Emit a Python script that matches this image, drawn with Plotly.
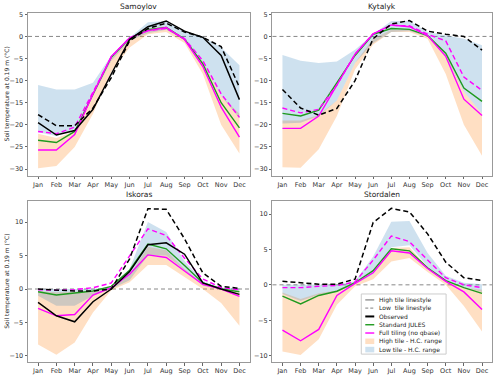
import plotly.graph_objects as go

months = ["Jan", "Feb", "Mar", "Apr", "May", "Jun", "Jul", "Aug", "Sep", "Oct", "Nov", "Dec"]
sites = ["Samoylov", "Kytalyk", "Iskoras", "Stordalen"]

# Samoylov
sam_obs_high = [-19.5, -22.3, -21.3, -16.5, -8.5, -0.7, 2.2, 3.5, 1.2, -0.2, -4.3, -14.3]
sam_obs_low = [-17.7, -20.2, -20.2, -16.2, -9.3, -1.0, 1.8, 3.0, 1.0, -0.2, -2.3, -11.5]
sam_jules = [-23.5, -24.0, -21.5, -13.0, -4.7, -0.4, 1.5, 2.0, -0.6, -6.2, -15.0, -20.7]
sam_full_high = [-25.7, -25.7, -22.2, -13.0, -4.5, -0.3, 1.3, 2.0, -0.7, -6.8, -16.0, -22.8]
sam_full_low = [-21.5, -22.0, -20.5, -12.5, -4.7, -0.3, 1.3, 1.8, -0.5, -5.5, -13.0, -18.3]
sam_hi_up = [-22.0, -23.0, -21.5, -13.5, -5.0, -0.5, 1.8, 2.3, -0.5, -5.8, -13.5, -17.5]
sam_hi_lo = [-29.8, -29.3, -25.0, -17.5, -8.0, -2.5, 0.5, 1.0, -1.5, -8.5, -20.0, -26.5]
sam_lo_up = [-11.0, -12.0, -12.0, -10.5, -4.3, -0.3, 3.2, 3.5, 1.0, 0.0, -2.5, -6.5]
sam_lo_lo = [-21.7, -22.5, -21.0, -13.5, -5.5, -1.0, 0.7, 1.5, -0.8, -6.0, -13.5, -18.5]

# Kytalyk
kyt_obs_high = [None] * 12
kyt_obs_low = [-12.0, -16.2, -17.8, -16.3, -10.0, -0.5, 2.8, 3.6, 1.2, 0.5, 0.0, -3.1]
kyt_jules = [-17.4, -18.0, -16.7, -10.5, -4.3, 0.5, 1.8, 1.6, 0.2, -3.8, -11.7, -14.7]
kyt_full_high = [-20.8, -20.8, -18.0, -11.0, -4.0, 0.6, 2.6, 2.2, 0.2, -4.5, -14.2, -17.9]
kyt_full_low = [-16.2, -17.3, -16.5, -11.0, -4.0, 0.6, 2.5, 2.4, 0.5, -1.0, -9.2, -12.2]
kyt_hi_up = [-19.0, -19.0, -17.8, -14.5, -6.0, -0.5, 1.5, 1.5, 0.0, -4.0, -12.5, -17.5]
kyt_hi_lo = [-29.6, -29.7, -25.5, -18.0, -7.5, -1.8, 1.0, 1.0, -0.5, -8.5, -20.0, -27.0]
kyt_lo_up = [-4.2, -5.5, -6.0, -5.7, -3.0, 0.5, 3.5, 3.5, 1.0, 0.3, -0.5, -2.0]
kyt_lo_lo = [-19.7, -19.5, -18.0, -14.5, -6.0, -1.5, 1.0, 1.2, 0.0, -4.5, -12.5, -17.5]

# Iskoras
isk_obs_high = [-2.0, -4.0, -4.9, -1.9, 0.0, 2.6, 6.6, 6.9, 5.2, 0.9, 0.0, -0.8]
isk_obs_low = [0.0, -0.2, -0.3, -0.3, 0.0, 4.5, 12.0, 11.9, 7.5, 2.4, 0.4, 0.1]
isk_jules = [-0.4, -0.9, -0.6, -0.3, 0.4, 2.8, 6.7, 6.0, 3.5, 0.9, 0.0, -0.4]
isk_full_high = [-2.9, -4.0, -3.8, -0.9, 0.2, 2.2, 5.1, 4.7, 2.7, 0.7, 0.0, -1.1]
isk_full_low = [-0.1, -0.2, -0.1, 0.2, 0.9, 5.0, 9.0, 8.0, 4.6, 1.5, 0.2, -0.1]
isk_hi_up = [-0.3, -0.5, -0.4, -0.3, 0.2, 2.0, 6.3, 5.8, 3.0, 0.8, 0.0, -0.6]
isk_hi_lo = [-8.3, -9.8, -8.0, -3.5, -0.2, 1.0, 3.6, 3.6, 1.8, 0.0, -2.1, -5.5]
isk_lo_up = [0.0, 0.0, 0.0, 0.0, 0.3, 3.0, 10.0, 8.5, 4.2, 1.2, 0.2, 0.1]
isk_lo_lo = [-1.0, -2.5, -2.5, -1.0, 0.0, 1.3, 5.0, 5.0, 2.8, 0.5, 0.0, -0.3]

# Stordalen
sto_obs_high = [None] * 12
sto_obs_low = [0.5, 0.3, 0.1, 0.1, 0.8, 8.8, 10.8, 10.3, 7.2, 3.2, 1.0, 0.6]
sto_jules = [-1.6, -2.7, -1.5, -0.9, 0.3, 2.0, 5.1, 4.8, 2.4, 0.6, -0.4, -1.2]
sto_full_high = [-6.4, -7.9, -6.3, -1.5, 0.2, 1.7, 4.8, 4.5, 2.3, 0.5, -1.0, -3.5]
sto_full_low = [-0.4, -0.4, -0.2, -0.1, 0.4, 3.5, 6.9, 6.1, 3.5, 1.0, 0.0, -0.4]
sto_hi_up = [-1.1, -2.0, -1.2, -0.8, 0.2, 1.5, 5.2, 5.3, 2.5, 0.5, -0.4, -0.7]
sto_hi_lo = [-9.4, -9.9, -7.7, -2.8, -0.2, 0.8, 3.3, 3.8, 1.8, 0.0, -3.0, -6.6]
sto_lo_up = [0.0, 0.0, 0.0, 0.0, 0.5, 4.0, 8.9, 9.0, 4.5, 1.3, 0.3, 0.1]
sto_lo_lo = [-1.3, -2.3, -1.4, -1.0, 0.1, 1.5, 5.3, 5.6, 2.6, 0.5, -0.3, -1.0]

site_data = [
    (sam_obs_high, sam_obs_low, sam_jules, sam_full_high, sam_full_low, sam_hi_up, sam_hi_lo, sam_lo_up, sam_lo_lo),
    (kyt_obs_high, kyt_obs_low, kyt_jules, kyt_full_high, kyt_full_low, kyt_hi_up, kyt_hi_lo, kyt_lo_up, kyt_lo_lo),
    (isk_obs_high, isk_obs_low, isk_jules, isk_full_high, isk_full_low, isk_hi_up, isk_hi_lo, isk_lo_up, isk_lo_lo),
    (sto_obs_high, sto_obs_low, sto_jules, sto_full_high, sto_full_low, sto_hi_up, sto_hi_lo, sto_lo_up, sto_lo_lo),
]
y_ranges = [[-31.5, 5.3], [-31.5, 5.3], [-10.9, 13.1], [-10.9, 11.8]]
y_ticks = [[-30, -25, -20, -15, -10, -5, 0, 5], [-30, -25, -20, -15, -10, -5, 0, 5],
           [-10, -5, 0, 5, 10], [-10, -5, 0, 5, 10]]

legend_labels = ["High tile linestyle", "Low  tile linestyle", "Observed", "Standard JULES",
                 "Full tiling (no qbase)", "High tile - H.C. range", "Low tile - H.C. range"]

ORANGE = "rgba(255,127,14,0.25)"
BLUE = "rgba(31,119,180,0.22)"
GREEN = "#1f9a1f"
MAG = "#ff00ff"
FONT = "DejaVu Sans"

W, H = 500, 382
L, R, T, B = 28, 7, 13, 15
PW, PH = W - L - R, H - T - B


def px(x):
    return (x - L) / PW


def py(y):
    return (H - B - y) / PH


fig = go.Figure()
x_domains = [[px(28), px(250)], [px(273), px(493)]]
y_domains = [[py(178), py(13)], [py(367), py(204)]]

xs = list(range(12))
for i, site in enumerate(sites):
    r, c = divmod(i, 2)
    ax = "" if i == 0 else str(i + 1)
    xa, ya = "x" + ax, "y" + ax
    obs_h, obs_l, jules, full_h, full_l, hi_up, hi_lo, lo_up, lo_lo = site_data[i]

    def add(y, **kw):
        fig.add_trace(go.Scatter(x=xs, y=y, xaxis=xa, yaxis=ya, showlegend=False,
                                 hoverinfo="skip", mode="lines", **kw))

    add(hi_lo, line=dict(width=0))
    add(hi_up, line=dict(width=0), fill="tonexty", fillcolor=ORANGE)
    add(lo_lo, line=dict(width=0))
    add(lo_up, line=dict(width=0), fill="tonexty", fillcolor=BLUE)
    add(jules, line=dict(color=GREEN, width=1.4))
    add(full_h, line=dict(color=MAG, width=1.4))
    add(full_l, line=dict(color=MAG, width=1.4, dash="5px,3px"))
    add(obs_h, line=dict(color="black", width=1.5))
    add(obs_l, line=dict(color="black", width=1.5, dash="5px,3px"))

    axis_common = dict(showline=True, linecolor="#999", linewidth=1, mirror=True, ticks="outside",
                       ticklen=2.5, tickcolor="#666", showgrid=False, zeroline=False,
                       tickfont=dict(family=FONT, size=6.5, color="#333"))
    fig.layout["xaxis" + ax] = dict(domain=x_domains[c], anchor=ya, range=[-0.55, 11.55],
                                    tickmode="array", tickvals=xs, ticktext=months, **axis_common)
    fig.layout["yaxis" + ax] = dict(domain=y_domains[r], anchor=xa, range=y_ranges[i],
                                    tickmode="array", tickvals=y_ticks[i], **axis_common)
    fig.add_shape(type="line", xref=xa + " domain", yref=ya, x0=0, x1=1, y0=0, y1=0,
                  line=dict(color="#888", width=1, dash="4px,3px"), layer="below")
    fig.add_annotation(text=site, xref=xa + " domain", yref=ya + " domain", x=0.5, y=1,
                       xanchor="center", yanchor="bottom", yshift=0, showarrow=False,
                       font=dict(family=FONT, size=7.5, color="#222"))

for cy in [(13 + 178) / 2, (204 + 367) / 2]:
    fig.add_annotation(text="Soil temperature at 0.19 m (°C)", xref="paper", yref="paper",
                       x=px(7), y=py(cy), xanchor="center", yanchor="middle", textangle=-90,
                       showarrow=False, font=dict(family=FONT, size=6, color="#222"))

# manual legend (bottom-right panel)
fig.add_shape(type="rect", xref="paper", yref="paper", x0=px(362), x1=px(447), y0=py(359), y1=py(298),
              line=dict(color="#ccc", width=1), fillcolor="rgba(255,255,255,0.85)")
entry_y = [304, 312.4, 320.8, 329.2, 337.6, 346, 354.4]
styles = [("line", "#999", None, 1.5), ("line", "#999", "3px,2px", 1.2), ("line", "black", None, 2),
          ("line", GREEN, None, 1.4), ("line", MAG, None, 1.4), ("rect", ORANGE, None, 0),
          ("rect", BLUE, None, 0)]
for lab, ey, (kind, col, dash, w) in zip(legend_labels, entry_y, styles):
    if kind == "line":
        fig.add_shape(type="line", xref="paper", yref="paper", x0=px(366), x1=px(375),
                      y0=py(ey), y1=py(ey), line=dict(color=col, width=w, dash=dash))
    else:
        fig.add_shape(type="rect", xref="paper", yref="paper", x0=px(366), x1=px(375),
                      y0=py(ey + 2.8), y1=py(ey - 2.8), line=dict(width=0), fillcolor=col)
    fig.add_annotation(text=lab, xref="paper", yref="paper", x=px(378), y=py(ey),
                       xanchor="left", yanchor="middle", showarrow=False,
                       font=dict(family=FONT, size=6, color="#222"))

fig.update_layout(width=W, height=H, margin=dict(l=L, r=R, t=T, b=B),
                  plot_bgcolor="white", paper_bgcolor="white", showlegend=False)
fig.write_html("out.html", config={"displayModeBar": False},
               post_script="document.body.style.margin='0';")
